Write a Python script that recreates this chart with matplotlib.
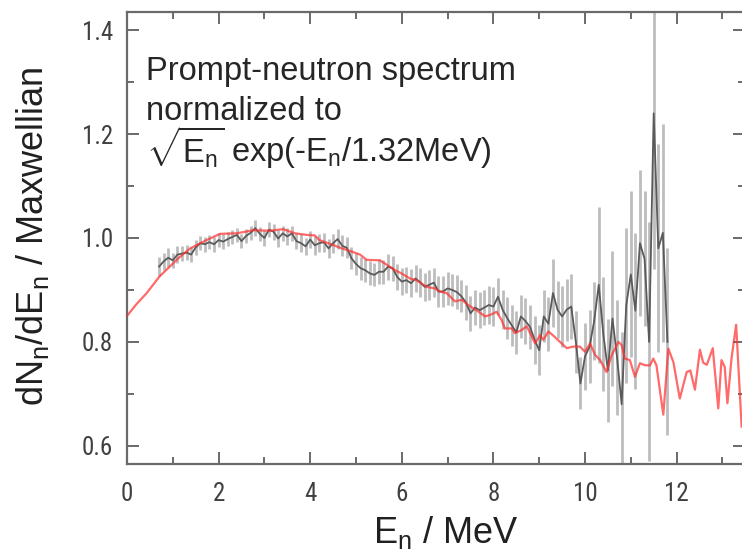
import matplotlib
matplotlib.use("Agg")
import matplotlib.pyplot as plt
from matplotlib import font_manager
from matplotlib.ticker import MultipleLocator

# measured spectrum (bin centre, ratio to Maxwellian, uncertainty)
gray_x = [0.7, 0.8, 0.9, 1.0, 1.1, 1.2, 1.3, 1.4, 1.5, 1.6, 1.7, 1.8, 1.9,
          2.0, 2.1, 2.2, 2.3, 2.4, 2.5, 2.6, 2.7, 2.8, 2.9,
          3.0, 3.1, 3.2, 3.3, 3.4, 3.5, 3.6, 3.7, 3.8, 3.9,
          4.0, 4.1, 4.2, 4.3, 4.4, 4.5, 4.6, 4.7, 4.8, 4.9,
          5.0, 5.1, 5.2, 5.3, 5.4, 5.5, 5.6, 5.7, 5.8, 5.9,
          6.0, 6.1, 6.2, 6.3, 6.4, 6.5, 6.6, 6.7, 6.8, 6.9,
          7.0, 7.1, 7.2, 7.3, 7.4, 7.5, 7.6, 7.7, 7.8, 7.9,
          8.0, 8.1, 8.2, 8.3, 8.4, 8.5, 8.6, 8.7, 8.8, 8.9,
          9.0, 9.1, 9.2, 9.3, 9.4, 9.5, 9.6, 9.7, 9.8, 9.9,
          10.0, 10.1, 10.2, 10.3, 10.4, 10.5, 10.6, 10.7, 10.8, 10.9,
          11.0, 11.1, 11.2, 11.3, 11.4, 11.5, 11.6, 11.7, 11.8]
gray_y = [0.945, 0.955, 0.962, 0.957, 0.968, 0.970, 0.972, 0.968, 0.982, 0.990, 0.988, 0.992, 0.988,
          0.996, 0.993, 0.998, 1.002, 1.006, 0.994, 1.004, 1.010, 1.019, 1.008,
          1.000, 1.016, 1.012, 0.999, 1.009, 1.003, 1.009, 0.994, 0.990, 0.984,
          0.997, 0.986, 0.990, 0.992, 0.980, 0.990, 0.998, 0.985, 0.981, 0.961,
          0.950, 0.942, 0.938, 0.932, 0.929, 0.935, 0.935, 0.945, 0.942, 0.925,
          0.916, 0.919, 0.913, 0.922, 0.915, 0.906, 0.910, 0.914, 0.897, 0.897,
          0.903, 0.900, 0.896, 0.888, 0.876, 0.855, 0.866, 0.861, 0.866, 0.871,
          0.868, 0.887, 0.862, 0.846, 0.832, 0.818, 0.849, 0.840, 0.829, 0.804,
          0.784, 0.849, 0.835, 0.894, 0.862, 0.849, 0.862, 0.868, 0.800, 0.720,
          0.772, 0.791, 0.840, 0.910, 0.815, 0.745, 0.845, 0.770, 0.680, 0.870,
          0.930, 0.860, 0.990, 0.960, 0.800, 1.240, 0.980, 1.010, 0.800]
gray_err = [0.018, 0.016, 0.018, 0.015, 0.016, 0.015, 0.014, 0.015, 0.014, 0.013, 0.014, 0.013, 0.014,
            0.013, 0.014, 0.013, 0.014, 0.013, 0.014, 0.013, 0.014, 0.015, 0.014,
            0.015, 0.014, 0.015, 0.016, 0.015, 0.016, 0.015, 0.016, 0.017, 0.016,
            0.017, 0.018, 0.017, 0.018, 0.019, 0.018, 0.019, 0.020, 0.020, 0.021,
            0.021, 0.022, 0.022, 0.023, 0.022, 0.024, 0.023, 0.025, 0.024, 0.025,
            0.026, 0.025, 0.027, 0.026, 0.028, 0.027, 0.029, 0.028, 0.030, 0.029,
            0.031, 0.030, 0.032, 0.031, 0.033, 0.034, 0.033, 0.035, 0.034, 0.036,
            0.037, 0.036, 0.038, 0.040, 0.039, 0.042, 0.041, 0.044, 0.043, 0.046,
            0.048, 0.050, 0.052, 0.065, 0.055, 0.058, 0.060, 0.062, 0.060, 0.050,
            0.065, 0.070, 0.075, 0.150, 0.110, 0.100, 0.130, 0.110, 0.140, 0.150,
            0.160, 0.150, 0.140, 0.130, 0.230, 0.300, 0.200, 0.210, 0.180]

# evaluated / calculated curve
red_x = [0.00, 0.20, 0.43, 0.71, 0.90, 1.12, 1.38, 1.67, 2.03, 2.39, 2.76, 3.12, 3.41,
         3.67, 3.92, 4.10, 4.20, 4.46, 4.69, 4.87, 5.09, 5.23, 5.52, 5.63, 5.81,
         5.99, 6.18, 6.32, 6.54, 6.72, 6.83, 6.98, 7.16, 7.31, 7.45, 7.63, 7.82,
         7.93, 8.07, 8.18, 8.25, 8.40, 8.47, 8.60, 8.73, 8.84, 8.91, 9.02, 9.09,
         9.20, 9.31, 9.49, 9.60, 9.75, 9.89, 10.00, 10.11, 10.22, 10.33, 10.47,
         10.58, 10.73, 10.80, 10.87, 10.98, 11.09, 11.20, 11.31, 11.42, 11.49,
         11.56, 11.67, 11.71, 11.82, 11.93, 12.07, 12.22, 12.30, 12.40, 12.51,
         12.58, 12.66, 12.79, 12.91, 12.98, 13.05, 13.11, 13.20, 13.30, 13.42]
red_y = [0.850, 0.872, 0.894, 0.926, 0.942, 0.961, 0.980, 0.993, 1.008, 1.009, 1.015, 1.014, 1.017,
         1.009, 1.006, 1.005, 0.996, 0.988, 0.980, 0.975, 0.968, 0.958, 0.957, 0.951, 0.940,
         0.932, 0.922, 0.919, 0.906, 0.903, 0.897, 0.894, 0.878, 0.881, 0.871, 0.861, 0.849,
         0.852, 0.858, 0.842, 0.826, 0.826, 0.817, 0.822, 0.830, 0.810, 0.797, 0.813, 0.804,
         0.820, 0.812, 0.797, 0.788, 0.791, 0.791, 0.781, 0.797, 0.775, 0.765, 0.742,
         0.774, 0.800, 0.794, 0.768, 0.765, 0.733, 0.759, 0.755, 0.755, 0.768,
         0.755, 0.685, 0.660, 0.787, 0.761, 0.691, 0.742, 0.745, 0.708, 0.785,
         0.760, 0.756, 0.788, 0.672, 0.765, 0.752, 0.682, 0.769, 0.833, 0.637]


def pick_font(*names):
    have = {f.name for f in font_manager.fontManager.ttflist}
    for name in names:
        if name in have:
            return name
    return "DejaVu Sans"


NARROW = pick_font("Liberation Sans Narrow", "Roboto Condensed", "Liberation Sans")
REGULAR = pick_font("Liberation Sans", "DejaVu Sans")
plt.rcParams["font.family"] = REGULAR
plt.rcParams["mathtext.fontset"] = "custom"
plt.rcParams["mathtext.rm"] = REGULAR

AXIS = "#6a6a6a"
W, H = 742, 554

fig = plt.figure(figsize=(W / 100, H / 100), dpi=100, facecolor="white")
ax = fig.add_axes([127 / W, 1 - 464 / H, 618.3 / W, 452 / H])

ax.errorbar(gray_x, gray_y, yerr=gray_err, color="#5a5a5a", lw=1.3,
            ecolor="#bdbdbd", elinewidth=2.0, capsize=0, zorder=2)
ax.plot(red_x, red_y, color="#ff3030", lw=1.6, alpha=0.72, zorder=3)

ax.set_xlim(0, 13.5)
ax.set_ylim(0.565, 1.435)
ax.xaxis.set_major_locator(MultipleLocator(2))
ax.xaxis.set_minor_locator(MultipleLocator(1))
ax.yaxis.set_major_locator(MultipleLocator(0.2))
ax.yaxis.set_minor_locator(MultipleLocator(0.1))
ax.yaxis.set_major_formatter(lambda v, p: f"{v:.1f}")

for s in ax.spines.values():
    s.set_color(AXIS)
    s.set_linewidth(1.6)
ax.tick_params(which="both", direction="in", top=True, right=True,
               color=AXIS, width=1.4, labelcolor="#404040")
ax.tick_params(which="major", length=8.5)
ax.tick_params(which="minor", length=5)
ax.tick_params(axis="x", which="major", pad=13)
ax.tick_params(axis="y", which="major", pad=10)
for lab in ax.get_xticklabels() + ax.get_yticklabels():
    lab.set_fontfamily(NARROW)
    lab.set_fontsize(18)

fig.text(446 / W, 1 - 543 / H, r"$\mathregular{E_n}$ / MeV", fontsize=26,
         ha="center", va="baseline", color="#202020")
fig.text(33 / W, 1 - 236 / H, r"$\mathregular{dN_n/dE_n}$ / Maxwellian", fontsize=26,
         rotation=90, ha="center", va="center", color="#202020")

note = dict(fontsize=23.5, ha="left", va="baseline", color="#262626")
fig.text(146 / W, 1 - 80 / H, "Prompt-neutron spectrum", **note)
fig.text(146 / W, 1 - 120 / H, "normalized to", **note)
fig.text(146 / W, 1 - 162 / H, r"$\mathregular{\sqrt{E_n}}$ exp(-E$\mathregular{_n}$/1.32MeV)", **note)

fig.savefig("out.png", dpi=100, facecolor="white")
